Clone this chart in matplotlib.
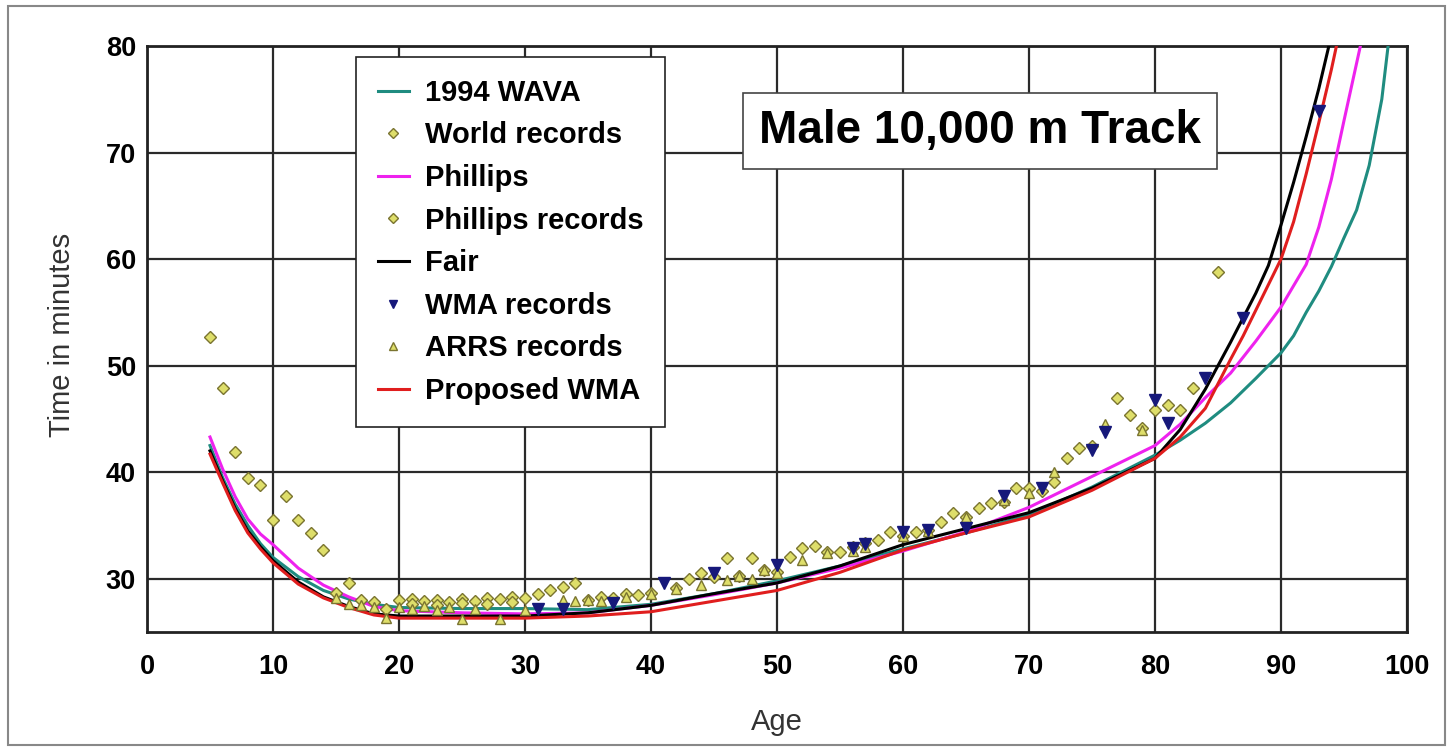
import matplotlib
matplotlib.use("Agg")
import matplotlib.pyplot as plt
from matplotlib.patches import Rectangle

plt.rcParams['font.family'] = ['Liberation Sans', 'DejaVu Sans']

# ---- Curves ----
wava_age = [5, 6, 7, 8, 9, 10, 12, 14, 16, 18, 20, 25, 30, 35, 40, 45, 50, 55, 60, 65, 70, 75, 80,
            82, 84, 86, 88, 90, 91, 92, 93, 94, 95, 96, 97, 98, 98.5]
wava_time = [42.5, 39.5, 37.0, 35.0, 33.3, 32.0, 30.2, 28.9, 28.1, 27.6, 27.3, 27.2, 27.2, 27.1, 27.6,
             28.6, 29.8, 31.2, 32.8, 34.3, 36.0, 38.6, 41.6,
             43.0, 44.6, 46.5, 48.8, 51.2, 52.8, 55.0, 57.0, 59.3, 62.0, 64.6, 68.8, 75.0, 80.0]

phil_age = [5, 6, 7, 8, 9, 10, 12, 14, 16, 18, 20, 25, 30, 35, 40, 45, 50, 55, 60, 65, 70, 75, 80,
            82, 84, 86, 88, 90, 91, 92, 93, 94, 95, 96.3]
phil_time = [43.3, 40.3, 37.7, 35.6, 34.2, 33.2, 31.0, 29.4, 28.3, 27.4, 27.0, 26.8, 26.7, 26.8, 27.5,
             28.5, 29.6, 31.0, 32.6, 34.4, 36.7, 39.6, 42.5,
             44.5, 47.0, 49.3, 52.3, 55.5, 57.5, 59.5, 63.0, 67.5, 73.0, 80.0]

fair_age = [5, 6, 7, 8, 9, 10, 12, 14, 16, 18, 20, 25, 30, 35, 40, 45, 50, 55, 60, 65, 70, 75, 80,
            82, 84, 85, 86, 87, 88, 89, 90, 91, 92, 93, 93.8]
fair_time = [42.0, 39.2, 36.6, 34.5, 33.0, 31.7, 29.7, 28.3, 27.4, 26.7, 26.5, 26.5, 26.5, 26.8, 27.5,
             28.6, 29.6, 31.2, 33.2, 34.7, 36.2, 38.5, 41.3,
             44.0, 47.8, 50.0, 52.2, 54.5, 56.8, 59.4, 63.2, 67.2, 71.5, 76.0, 80.0]

prop_age = [5, 6, 7, 8, 9, 10, 12, 14, 16, 18, 20, 25, 30, 35, 40, 45, 50, 55, 60, 65, 70, 75, 80,
            82, 84, 86, 87, 88, 89, 90, 91, 92, 93, 94, 94.4]
prop_time = [41.7, 39.0, 36.4, 34.3, 32.8, 31.5, 29.5, 28.2, 27.3, 26.6, 26.3, 26.3, 26.3, 26.5, 26.9,
             27.9, 28.9, 30.6, 32.7, 34.3, 35.8, 38.3, 41.3,
             43.3, 46.0, 50.6, 52.8, 55.2, 57.6, 60.0, 63.5, 68.0, 72.8, 77.8, 80.0]

# ---- Records ----
wr_age = [5, 6, 7, 8, 9, 10, 11, 12, 13, 14, 15, 16, 17, 18, 19, 20, 21, 22, 23, 24, 25, 26, 27, 28, 29,
          30, 32, 33, 34, 36, 38, 40, 42, 44, 46, 48, 51, 52, 53, 55, 58, 59, 61, 63, 64, 66, 67, 69,
          70, 72, 73, 74, 77, 78, 79, 80, 82, 83, 85]
wr_time = [52.7, 47.9, 41.9, 39.5, 38.8, 35.5, 37.8, 35.5, 34.3, 32.7, 28.7, 29.6, 28.0, 27.8, 27.2,
           28.0, 28.1, 27.9, 28.0, 27.8, 28.1, 27.9, 28.2, 28.1, 28.3, 28.2, 28.9, 29.2, 29.6, 28.3,
           28.6, 28.7, 29.1, 30.5, 31.9, 31.9, 32.0, 32.9, 33.1, 32.5, 33.6, 34.4, 34.4, 35.3, 36.2,
           36.6, 37.1, 38.5, 38.5, 39.1, 41.3, 42.3, 47.0, 45.4, 44.1, 45.8, 45.8, 47.9, 58.8]

pr_age = [21, 23, 25, 27, 29, 31, 35, 37, 39, 43, 45, 47, 49, 50, 54, 56, 57, 60, 62, 65, 68, 71, 75, 81]
pr_time = [27.6, 27.5, 27.7, 27.6, 27.8, 28.6, 28.0, 28.2, 28.5, 30.0, 30.2, 30.3, 30.8, 30.6, 32.5,
           33.0, 33.4, 34.0, 34.6, 35.8, 37.2, 38.2, 42.5, 46.3]

wma_age = [31, 33, 37, 41, 45, 50, 56, 57, 60, 62, 65, 68, 71, 75, 76, 80, 81, 84, 87, 93]
wma_time = [27.2, 27.2, 27.7, 29.6, 30.5, 31.3, 32.9, 33.3, 34.4, 34.6, 34.8, 37.8, 38.5, 42.1, 43.8,
            46.8, 44.6, 48.8, 54.5, 73.9]

arrs_age = [15, 16, 17, 18, 19, 20, 21, 22, 23, 24, 25, 26, 28, 30, 33, 34, 35, 36, 38, 40, 42, 44, 46,
            47, 48, 49, 50, 52, 54, 56, 57, 60, 62, 65, 68, 70, 72, 76, 79]
arrs_time = [28.2, 27.6, 27.5, 27.3, 26.3, 27.3, 27.2, 27.4, 27.1, 27.3, 26.2, 27.2, 26.2, 27.1, 28.0,
             27.9, 28.0, 27.9, 28.3, 28.6, 29.0, 29.4, 29.9, 30.3, 30.0, 30.8, 30.5, 31.8, 32.4, 32.6,
             33.0, 34.0, 34.5, 35.8, 37.4, 38.0, 40.0, 44.5, 44.0]

x_ticks = [0, 10, 20, 30, 40, 50, 60, 70, 80, 90, 100]
y_ticks = [30, 40, 50, 60, 70, 80]

W, H = 1453, 751
fig = plt.figure(figsize=(W / 100, H / 100), dpi=100)
fig.patch.set_facecolor('white')
ax = fig.add_axes([147 / W, 1 - 632 / H, 1260 / W, 586 / H])

teal = '#1f8c80'
mag = '#ee22ee'
red = '#e01e1e'
olive_face = '#dede6a'
olive_edge = '#7a7430'
navy = '#16187a'

lw = 2.2
ax.plot(wava_age, wava_time, color=teal, lw=lw, label='1994 WAVA', zorder=3)
ax.plot(wr_age, wr_time, ls='none', marker='D', ms=6.5, mfc=olive_face, mec=olive_edge, mew=1.0,
        label='World records', zorder=5)
ax.plot(phil_age, phil_time, color=mag, lw=lw, label='Phillips', zorder=3)
ax.plot(pr_age, pr_time, ls='none', marker='D', ms=6.5, mfc=olive_face, mec=olive_edge, mew=1.0,
        label='Phillips records', zorder=5)
ax.plot(fair_age, fair_time, color='black', lw=lw, label='Fair', zorder=3)
ax.plot(wma_age, wma_time, ls='none', marker='v', ms=8, mfc=navy, mec=navy,
        label='WMA records', zorder=6)
ax.plot(arrs_age, arrs_time, ls='none', marker='^', ms=7.5, mfc=olive_face, mec=olive_edge, mew=1.0,
        label='ARRS records', zorder=5)
ax.plot(prop_age, prop_time, color=red, lw=lw, label='Proposed WMA', zorder=4)

ax.set_xlim(0, 100)
ax.set_ylim(25, 80)
ax.set_xticks(x_ticks)
ax.set_yticks(y_ticks)
ax.set_xticklabels([str(v) for v in x_ticks], fontsize=19.5, fontweight='bold')
ax.set_yticklabels([str(v) for v in y_ticks], fontsize=19.5, fontweight='bold')
ax.tick_params(axis='x', length=0, pad=16)
ax.tick_params(axis='y', length=0, pad=8)
ax.grid(True, color='#2a2a2a', lw=1.6)
ax.set_axisbelow(True)
for s in ax.spines.values():
    s.set_linewidth(2.0)
    s.set_color('#222222')

ax.set_xlabel('Age', fontsize=21, color='#333333')
ax.set_ylabel('Time in minutes', fontsize=21, color='#333333')
ax.xaxis.set_label_coords(0.5, (632 - 722) / 586)
ax.yaxis.set_label_coords((62 - 147) / 1260, (632 - 335) / 586)
ax.xaxis.label.set_va('center')
ax.yaxis.label.set_va('center')

leg = ax.legend(loc='upper left', bbox_to_anchor=((356 - 147) / 1260, (632 - 57) / 586),
                borderaxespad=0, prop={'size': 21, 'weight': 'bold'}, labelspacing=0.5,
                handlelength=1.05, handletextpad=0.55, borderpad=0.75, fancybox=False,
                edgecolor='#222222', framealpha=1, markerscale=0.75)
leg.get_frame().set_linewidth(1.2)

ax.text((980 - 147) / 1260, (632 - 131) / 586, 'Male 10,000 m Track', transform=ax.transAxes,
        ha='center', va='center', fontsize=33, fontweight='bold', zorder=10,
        bbox=dict(boxstyle='square,pad=0.35', fc='white', ec='#444444', lw=1.2))

fig.patches.append(Rectangle((8 / W, 6 / H), (W - 16) / W, (H - 12) / H, transform=fig.transFigure,
                             fill=False, ec='#888888', lw=1.5))

fig.savefig('out.png', dpi=100)
